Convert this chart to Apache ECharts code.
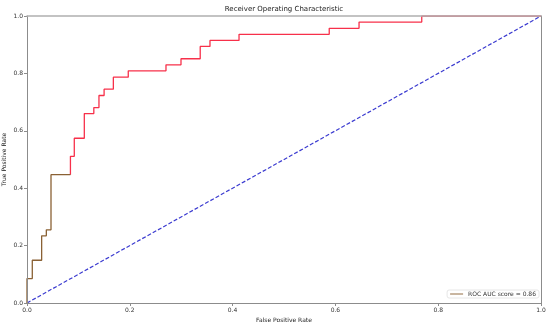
<!DOCTYPE html>
<html><head><meta charset="utf-8">
<script src="https://cdn.jsdelivr.net/npm/echarts@6/dist/echarts.min.js"></script>
<style>html,body{margin:0;padding:0;background:#fff}#c{width:550px;height:325px}</style>
</head><body><div id="c"></div>
<script>
// ROC curve corner points (lower part, drawn brown)
const fprLow = [0, 0, 0.0103, 0.0103, 0.0285, 0.0285, 0.0376, 0.0376, 0.0467, 0.0467, 0.0845];
const tprLow = [0, 0.085, 0.085, 0.149, 0.149, 0.234, 0.234, 0.255, 0.255, 0.447, 0.447];
// ROC curve corner points (upper part, drawn red)
const fprHigh = [0.0845, 0.0845, 0.092, 0.092, 0.1115, 0.1115, 0.130, 0.130, 0.140, 0.140, 0.150, 0.150, 0.168, 0.168, 0.197, 0.197, 0.2704, 0.2704, 0.2996, 0.2996, 0.337, 0.337, 0.356, 0.356, 0.4125, 0.4125, 0.588, 0.588, 0.646, 0.646, 0.768, 0.768, 1.0];
const tprHigh = [0.447, 0.511, 0.511, 0.574, 0.574, 0.660, 0.660, 0.681, 0.681, 0.723, 0.723, 0.745, 0.745, 0.787, 0.787, 0.809, 0.809, 0.830, 0.830, 0.851, 0.851, 0.894, 0.894, 0.915, 0.915, 0.936, 0.936, 0.957, 0.957, 0.979, 0.979, 1.0, 1.0];
// chance diagonal
const diagX = [0, 1];
const diagY = [0, 1];
const xTicks = [0, 0.2, 0.4, 0.6, 0.8, 1.0];
const yTicks = [0, 0.2, 0.4, 0.6, 0.8, 1.0];
const legendLabel = 'ROC AUC score = 0.86';

const zip = (a, b) => a.map((v, i) => [v, b[i]]);
const font = 'DejaVu Sans';
const fmt = ticks => v => ticks.some(t => Math.abs(t - v) < 1e-9) ? v.toFixed(1) : '';
const spine = {show: true, onZero: false, lineStyle: {color: '#8c8c8c', width: 1}};
const chart = echarts.init(document.getElementById('c'), null, {renderer: 'canvas'});
chart.setOption({
  animation: false,
  backgroundColor: '#fff',
  textStyle: {fontFamily: font},
  title: {
    text: 'Receiver Operating Characteristic',
    left: 284, top: 6, padding: 0, textAlign: 'center',
    textStyle: {fontFamily: font, fontSize: 7, fontWeight: 'normal', color: '#222'}
  },
  grid: {left: 27, right: 9, top: 16, bottom: 22, show: false, containLabel: false, outerBoundsMode: 'none'},
  xAxis: [{
    type: 'value', min: 0, max: 1, interval: 0.2, z: 10,
    name: 'False Positive Rate', nameLocation: 'middle', nameGap: 14, nameMoveOverlap: false,
    nameTextStyle: {fontFamily: font, fontSize: 6, color: '#222'},
    axisLine: spine,
    axisTick: {show: true, length: 3, lineStyle: {color: '#8c8c8c'}},
    axisLabel: {fontFamily: font, fontSize: 6, color: '#333', margin: 4, formatter: fmt(xTicks)},
    splitLine: {show: false}
  }, {
    type: 'value', min: 0, max: 1, position: 'top', zlevel: 1,
    axisLine: {show: true, onZero: false, lineStyle: {color: '#b0b0b0', width: 1.5}},
    axisTick: {show: false}, axisLabel: {show: false}, splitLine: {show: false}
  }],
  yAxis: [{
    type: 'value', min: 0, max: 1, interval: 0.2, z: 10,
    name: 'True Positive Rate', nameLocation: 'middle', nameGap: 20, nameRotate: 90, nameMoveOverlap: false,
    nameTextStyle: {fontFamily: font, fontSize: 6, color: '#222'},
    axisLine: spine,
    axisTick: {show: true, length: 3, lineStyle: {color: '#8c8c8c'}},
    axisLabel: {fontFamily: font, fontSize: 6, color: '#333', margin: 4, formatter: fmt(yTicks)},
    splitLine: {show: false}
  }, {
    type: 'value', min: 0, max: 1, position: 'right', z: 10,
    axisLine: spine,
    axisTick: {show: false}, axisLabel: {show: false}, splitLine: {show: false}
  }],
  legend: {
    data: [legendLabel],
    right: 11, bottom: 27,
    orient: 'vertical',
    itemWidth: 13, itemHeight: 6, itemGap: 0,
    padding: [1, 3, 1, 3],
    borderColor: '#e6e6e6', borderWidth: 1, borderRadius: 2,
    backgroundColor: 'rgba(255,255,255,0.8)',
    icon: 'path://M0,0 L14,0 L14,1 L0,1 Z',
    textStyle: {fontFamily: font, fontSize: 6, color: '#333'}
  },
  series: [
    {
      name: 'chance', type: 'line', data: zip(diagX, diagY), symbol: 'none',
      lineStyle: {color: '#3b3bd0', width: 1.2, type: [4, 2]}, z: 2
    },
    {
      name: 'roc-high', type: 'line', data: zip(fprHigh, tprHigh), symbol: 'none',
      lineStyle: {color: '#f7304a', width: 1.3}, z: 3
    },
    {
      name: legendLabel, type: 'line', data: zip(fprLow, tprLow), symbol: 'none',
      itemStyle: {color: '#8a6134'},
      lineStyle: {color: '#8a6134', width: 1.3}, z: 4
    }
  ]
});
</script></body></html>
